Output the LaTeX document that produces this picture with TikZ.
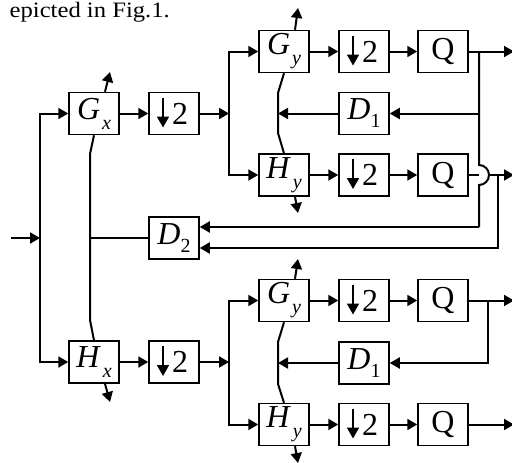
\documentclass[tikz,border=0pt]{standalone}
\usepackage{fontspec}
\setmainfont{Liberation Serif}
\usetikzlibrary{arrows.meta}
\newlength{\du}
\setlength{\du}{1pt}
\newcommand{\filt}[2]{\textit{#1}\kern2pt\raisebox{-10pt}{\fontsize{20}{20}\selectfont\textit{#2}}}
\newcommand{\dly}[1]{\textit{D}\raisebox{-8pt}{\fontsize{20}{20}\selectfont #1}}
\tikzset{
  blk/.style={draw, line width=1.5pt, fill=white, minimum width=50\du, minimum height=42\du,
    inner sep=0pt, font=\fontsize{32}{34}\selectfont},
  wire/.style={line width=2pt},
  sig/.style={wire, -{Triangle[length=10pt,width=11pt]}},
  tip/.style={line width=1.8pt, -{Triangle[length=11pt,width=12pt]}},
}
\begin{document}
\begin{tikzpicture}
\pgftransformyscale{-1.000000}
\useasboundingbox (0\du,0\du) rectangle (512\du,463\du);
% setfont left to latex
\node[anchor=base east, inner sep=0pt] (cap) at (170\du,17\du) {\scalebox{1.12}[1]{\fontsize{22}{26}\selectfont epicted in Fig.1.}};
% first level
\node[blk] (Gx) at (94\du,113.5\du) {\filt{G}{x}};
\node[blk] (dx1) at (174\du,113.5\du) {\hspace*{12pt}2};
\node[blk] (Hx) at (94\du,362\du) {\filt{H}{x}};
\node[blk] (dx2) at (174\du,362\du) {\hspace*{12pt}2};
\node[blk] (D2) at (174\du,238\du) {\dly{2}};
% upper branch
\node[blk] (Gya) at (284\du,51.5\du) {\filt{G}{y}};
\node[blk] (dya) at (364\du,51.5\du) {\hspace*{12pt}2};
\node[blk] (Qa) at (443\du,51.5\du) {Q};
\node[blk] (D1a) at (364\du,113.5\du) {\dly{1}};
\node[blk] (Hya) at (284\du,175\du) {\filt{H}{y}};
\node[blk] (dyb) at (364\du,175\du) {\hspace*{12pt}2};
\node[blk] (Qb) at (443\du,175\du) {Q};
% lower branch
\node[blk] (Gyb) at (284\du,300.5\du) {\filt{G}{y}};
\node[blk] (dyc) at (364\du,300.5\du) {\hspace*{12pt}2};
\node[blk] (Qc) at (443\du,300.5\du) {Q};
\node[blk] (D1b) at (364\du,363\du) {\dly{1}};
\node[blk] (Hyb) at (284\du,424.5\du) {\filt{H}{y}};
\node[blk] (dyd) at (364\du,424.5\du) {\hspace*{12pt}2};
\node[blk] (Qd) at (443\du,424.5\du) {Q};
% down arrows of the decimators
\foreach \n in {dx1,dx2,dya,dyb,dyc,dyd}
  \draw[tip] ([shift={(-11\du,-16\du)}]\n.center) -- ([shift={(-11\du,14\du)}]\n.center);
% free ends and bends
\coordinate (in) at (11\du,238\du);
\coordinate (sx) at (40\du,238\du);
\coordinate (jx1) at (90\du,154\du);
\coordinate (jx2) at (90\du,320\du);
\coordinate (jx3) at (90\du,238\du);
\coordinate (sa) at (229\du,113.5\du);
\coordinate (sb) at (229\du,362\du);
\coordinate (ja1) at (278\du,93\du);
\coordinate (ja2) at (278\du,133\du);
\coordinate (ja3) at (278\du,113.5\du);
\coordinate (jb1) at (278\du,342\du);
\coordinate (jb2) at (278\du,384\du);
\coordinate (jb3) at (278\du,363\du);
\coordinate (ta) at (479\du,51.5\du);
\coordinate (hop1) at (479\du,165\du);
\coordinate (tb) at (479\du,227\du);
\coordinate (hb) at (489\du,175\du);
\coordinate (ub) at (498\du,175\du);
\coordinate (ub2) at (498\du,248\du);
\coordinate (tc) at (488\du,300.5\du);
\coordinate (oa) at (514\du,51.5\du);
\coordinate (ob) at (514\du,175\du);
\coordinate (oc) at (514\du,300.5\du);
\coordinate (od) at (514\du,424.5\du);
\coordinate (gxo) at (110\du,72\du);
\coordinate (hxo) at (110\du,402\du);
\coordinate (gyao) at (298\du,8\du);
\coordinate (hyao) at (298\du,213\du);
\coordinate (gybo) at (298\du,259\du);
\coordinate (hybo) at (298\du,463\du);
% first level
\draw[sig] (in) -- (sx);
\draw[sig] (sx) |- (Gx);
\draw[sig] (sx) |- (Hx);
\draw[sig] (Gx) -- (dx1);
\draw[sig] (Hx) -- (dx2);
\draw[sig] (dx1) -- (sa);
\draw[sig] (dx2) -- (sb);
\draw[wire] (Gx.south) -- (jx1) -- (jx2) -- (Hx.north);
\draw[wire] (D2) -- (jx3);
\draw[sig] ([xshift=11pt]Gx.north) -- (gxo);
\draw[sig] ([xshift=11pt]Hx.south) -- (hxo);
% upper branch
\draw[sig] (sa) |- (Gya);
\draw[sig] (sa) |- (Hya);
\draw[sig] (Gya) -- (dya);
\draw[sig] (dya) -- (Qa);
\draw[sig] (Qa) -- (oa);
\draw[sig] (Hya) -- (dyb);
\draw[sig] (dyb) -- (Qb);
\draw[wire] (Gya.south) -- (ja1) -- (ja2) -- (Hya.north);
\draw[sig] (ta|-D1a) -- (D1a);
\draw[sig] (D1a) -- (ja3);
\draw[wire] (ta) -- (hop1) arc[start angle=-90, end angle=90, radius=10\du] -- (tb);
\draw[sig] (tb) -- (D2.east|-tb);
\draw[wire] (Qb) -- (hop1|-Qb);
\draw[sig] (hb) -- (ob);
\draw[sig] (ub) |- (D2.east|-ub2);
\draw[sig] ([xshift=11pt]Gya.north) -- (gyao);
\draw[sig] ([xshift=11pt]Hya.south) -- (hyao);
% lower branch
\draw[sig] (sb) |- (Gyb);
\draw[sig] (sb) |- (Hyb);
\draw[sig] (Gyb) -- (dyc);
\draw[sig] (dyc) -- (Qc);
\draw[sig] (Qc) -- (oc);
\draw[sig] (Hyb) -- (dyd);
\draw[sig] (dyd) -- (Qd);
\draw[sig] (Qd) -- (od);
\draw[wire] (Gyb.south) -- (jb1) -- (jb2) -- (Hyb.north);
\draw[sig] (tc) |- (D1b);
\draw[sig] (D1b) -- (jb3);
\draw[sig] ([xshift=11pt]Gyb.north) -- (gybo);
\draw[sig] ([xshift=11pt]Hyb.south) -- (hybo);
\end{tikzpicture}
\end{document}
